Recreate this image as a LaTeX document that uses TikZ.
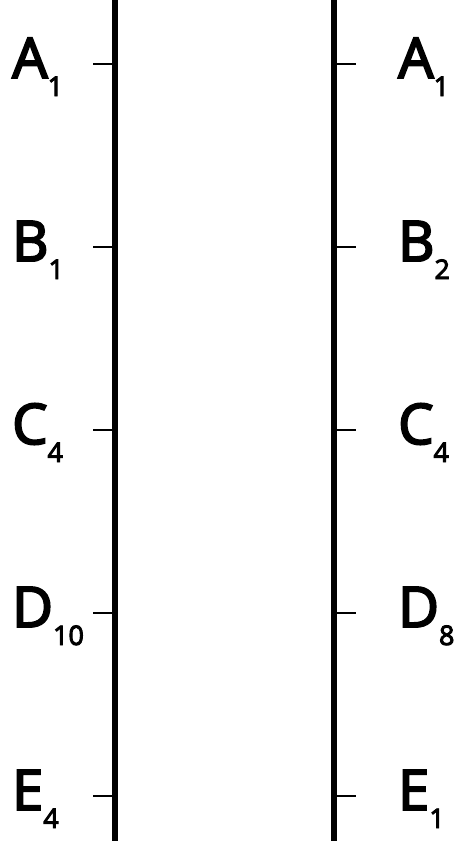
\documentclass[tikz,border=0pt]{standalone}
\usepackage{fontspec}
\setmainfont{Open Sans}
\newfontfamily\locusfont{Open Sans}[FakeBold=3.5]
\usetikzlibrary{positioning}

\newcommand{\sub}[1]{\raisebox{-18pt}{\fontsize{27}{27}\selectfont #1}}

\begin{document}
\begin{tikzpicture}[x=1pt,y=-1pt,
    chrom/.style={line width=6pt},
    tickline/.style={line width=2.5pt},
    locus/.style={anchor=base west,inner sep=0pt,font=\fontsize{56}{56}\selectfont\locusfont}]
        \useasboundingbox (0,0) rectangle (458,841);

        \draw[chrom] (115,0) -- (115,841);
        \draw[chrom] (334,0) -- (334,841);

        \foreach \y/\la/\na/\lb/\nb [count=\i] in {64/A/1/A/1,247/B/1/B/2,430/C/4/C/4,613/D/10/D/8,796/E/4/E/1}
        {
            \coordinate (left\i) at (115,\y);
            \coordinate (right\i) at (334,\y);
            \draw[tickline] (left\i) -- ++(-22,0);
            \draw[tickline] (right\i) -- ++(22,0);
            \node[locus] (leftlabel\i) at (12,\y+14) {\la\sub{\na}};
            \node[locus] (rightlabel\i) at (398,\y+14) {\lb\sub{\nb}};
        }
    \end{tikzpicture}
\end{document}
